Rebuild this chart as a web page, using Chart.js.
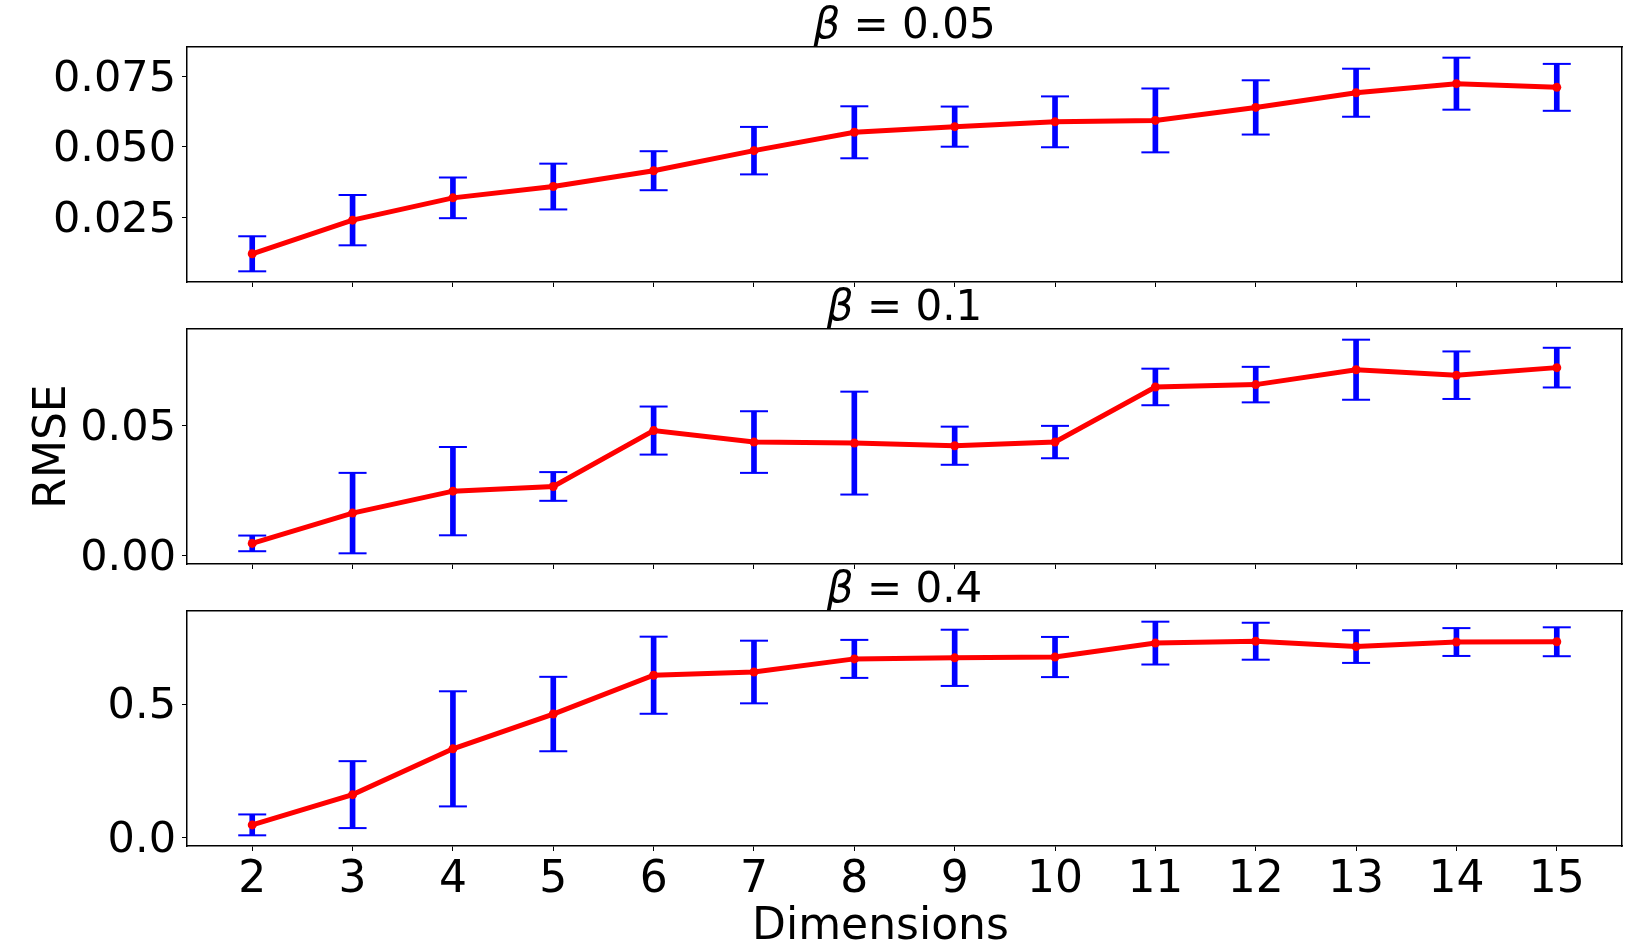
<!DOCTYPE html>
<html>
<head>
<meta charset="utf-8">
<script src="https://cdn.jsdelivr.net/npm/chart.js@4.4.1/dist/chart.umd.min.js"></script>
<style>
  html, body { margin: 0; padding: 0; background: #ffffff; }
  #wrap { position: relative; width: 1638px; height: 948px; background: #ffffff; overflow: hidden; }
  canvas { position: absolute; left: 0; }
</style>
</head>
<body>
<div id="wrap">
  <canvas id="c1" width="1638" height="300" style="top:0px;width:1638px;height:300px"></canvas>
  <canvas id="c2" width="1638" height="300" style="top:282px;width:1638px;height:300px"></canvas>
  <canvas id="c3" width="1638" height="384" style="top:564px;width:1638px;height:384px"></canvas>
</div>
<script>
// ---------------- data ----------------
const dims = [2, 3, 4, 5, 6, 7, 8, 9, 10, 11, 12, 13, 14, 15];
const betas = ['0.05', '0.1', '0.4'];

const mean005 = [0.0122, 0.0241, 0.0320, 0.0360, 0.0416, 0.0487, 0.0552, 0.0572, 0.0589, 0.0594, 0.0640, 0.0692, 0.0724, 0.0711];
const std005  = [0.0062, 0.0089, 0.0072, 0.0081, 0.0069, 0.0084, 0.0092, 0.0071, 0.0090, 0.0113, 0.0096, 0.0085, 0.0092, 0.0083];

const mean01 = [0.0048, 0.0164, 0.0248, 0.0266, 0.0480, 0.0436, 0.0432, 0.0422, 0.0436, 0.0647, 0.0656, 0.0713, 0.0692, 0.0721];
const std01  = [0.0030, 0.0154, 0.0169, 0.0055, 0.0092, 0.0118, 0.0197, 0.0073, 0.0062, 0.0070, 0.0068, 0.0115, 0.0091, 0.0076];

const mean04 = [0.049, 0.162, 0.333, 0.463, 0.608, 0.620, 0.669, 0.673, 0.676, 0.728, 0.735, 0.715, 0.732, 0.733];
const std04  = [0.039, 0.125, 0.215, 0.139, 0.144, 0.117, 0.071, 0.105, 0.075, 0.080, 0.069, 0.061, 0.052, 0.054];

const yTicks005 = [0.025, 0.050, 0.075];
const yTickLabels005 = ['0.025', '0.050', '0.075'];
const yTicks01 = [0.00, 0.05];
const yTickLabels01 = ['0.00', '0.05'];
const yTicks04 = [0.0, 0.5];
const yTickLabels04 = ['0.0', '0.5'];

const xLabel = 'Dimensions';
const yLabel = 'RMSE';

// ---------------- style ----------------
Chart.defaults.font.family = '"DejaVu Sans", "Liberation Sans", sans-serif';
Chart.defaults.color = '#000000';

const FONT_FAMILY = '"DejaVu Sans", sans-serif';

// title plugin: italic beta + upright value, like mathtext
const betaTitle = {
  id: 'betaTitle',
  afterDraw(chart, args, opts) {
    const ctx = chart.ctx;
    const area = chart.chartArea;
    const size = opts.size || 42;
    const partA = '\u03B2';
    const partB = ' = ' + opts.value;
    ctx.save();
    ctx.fillStyle = '#000';
    ctx.textBaseline = 'alphabetic';
    ctx.font = 'italic ' + size + 'px ' + FONT_FAMILY;
    const wA = ctx.measureText(partA).width;
    ctx.font = size + 'px ' + FONT_FAMILY;
    const wB = ctx.measureText(partB).width;
    const cx = (area.left + area.right) / 2;
    const x0 = cx - (wA + wB) / 2;
    const y = area.top - (opts.gap || 9);
    ctx.font = 'italic ' + size + 'px ' + FONT_FAMILY;
    ctx.textAlign = 'left';
    ctx.fillText(partA, x0, y);
    ctx.font = size + 'px ' + FONT_FAMILY;
    ctx.fillText(partB, x0 + wA, y);
    ctx.restore();
  }
};

// figure-level x label (sits slightly left of the axes centre, as in the source figure)
const figXLabel = {
  id: 'figXLabel',
  afterDraw(chart, args, opts) {
    if (!opts.text) return;
    const ctx = chart.ctx;
    const area = chart.chartArea;
    ctx.save();
    ctx.fillStyle = '#000';
    ctx.font = (opts.size || 44) + 'px ' + FONT_FAMILY;
    ctx.textAlign = 'center';
    ctx.textBaseline = 'alphabetic';
    ctx.fillText(opts.text, (area.left + area.right) / 2 + (opts.dx || 0), area.bottom + (opts.dy || 93));
    ctx.restore();
  }
};

function extent(mean, std) {
  let lo = Infinity, hi = -Infinity;
  mean.forEach((m, i) => { lo = Math.min(lo, m - std[i]); hi = Math.max(hi, m + std[i]); });
  const pad = (hi - lo) * 0.05;
  return [lo - pad, hi + pad];
}

function makeChart(id, mean, std, yTicks, yTickLabels, beta, showX, showY, xAxisHeight) {
  const [ymin, ymax] = extent(mean, std);
  const xPad = (dims[dims.length - 1] - dims[0]) * 0.05;
  const xmin = dims[0] - xPad, xmax = dims[dims.length - 1] + xPad;

  const lineData = dims.map((d, i) => ({ x: d, y: mean[i] }));
  const barData = dims.map((d, i) => ({ x: d, y: [mean[i] - std[i], mean[i] + std[i]] }));
  const capData = [];
  dims.forEach((d, i) => {
    capData.push({ x: d, y: mean[i] - std[i] });
    capData.push({ x: d, y: mean[i] + std[i] });
  });

  const tickGrid = { display: true, drawOnChartArea: false, drawTicks: true, tickLength: 5, color: '#000', lineWidth: 1, offset: false };
  const frame = { display: true, color: '#000', width: 1.5 };
  const noPad = s => { s.paddingTop = 0; s.paddingBottom = 0; s.paddingLeft = 0; s.paddingRight = 0; };

  return new Chart(document.getElementById(id), {
    type: 'line',
    data: {
      datasets: [
        {
          type: 'line', data: lineData, order: 0,
          borderColor: '#ff0000', backgroundColor: '#ff0000', borderWidth: 5,
          pointRadius: 4.5, pointBorderWidth: 0, pointBackgroundColor: '#ff0000',
          tension: 0, fill: false
        },
        {
          type: 'line', data: capData, order: 1, showLine: false,
          pointStyle: 'line', pointRadius: 14, pointBorderWidth: 2,
          pointBorderColor: '#0000ff', borderColor: '#0000ff'
        },
        {
          type: 'bar', data: barData, order: 2,
          backgroundColor: '#0000ff', borderWidth: 0, barThickness: 5, grouped: false
        }
      ]
    },
    options: {
      responsive: false,
      animation: false,
      events: [],
      layout: { padding: { top: 47, left: 0, right: 13, bottom: 0 } },
      plugins: {
        legend: { display: false },
        tooltip: { enabled: false },
        title: { display: false },
        betaTitle: { value: beta, size: 42, gap: 9 },
        figXLabel: { text: showX ? xLabel : '', size: 44, dx: -24, dy: 93 }
      },
      scales: {
        x: {
          type: 'linear', position: 'bottom', min: xmin, max: xmax, offset: false,
          afterBuildTicks: s => { s.ticks = dims.map(v => ({ value: v })); },
          ticks: { display: showX, autoSkip: false, maxRotation: 0, padding: 3, font: { size: 44 }, callback: v => String(v) },
          grid: tickGrid, border: frame,
          afterFit: s => { s.height = xAxisHeight; noPad(s); }
        },
        y: {
          type: 'linear', position: 'left', min: ymin, max: ymax,
          afterBuildTicks: s => { s.ticks = yTicks.map(v => ({ value: v })); },
          ticks: { padding: 6, labelOffset: 3, font: { size: 43 }, callback: (v, i) => yTickLabels[i] },
          grid: tickGrid, border: frame,
          title: { display: showY, text: yLabel, font: { size: 44, lineHeight: 1 }, padding: { top: 32, bottom: 0 } },
          afterFit: s => { s.width = 187; noPad(s); }
        },
        x2: {
          type: 'linear', position: 'top', min: xmin, max: xmax,
          ticks: { display: false }, grid: { display: false }, border: frame,
          afterFit: s => { s.height = 0; noPad(s); }
        },
        y2: {
          type: 'linear', position: 'right', min: ymin, max: ymax,
          ticks: { display: false }, grid: { display: false }, border: frame,
          afterFit: s => { s.width = 0; noPad(s); }
        }
      }
    },
    plugins: [betaTitle, figXLabel]
  });
}

makeChart('c1', mean005, std005, yTicks005, yTickLabels005, betas[0], false, false, 18);
makeChart('c2', mean01, std01, yTicks01, yTickLabels01, betas[1], false, true, 18);
makeChart('c3', mean04, std04, yTicks04, yTickLabels04, betas[2], true, false, 102);
</script>
</body>
</html>
